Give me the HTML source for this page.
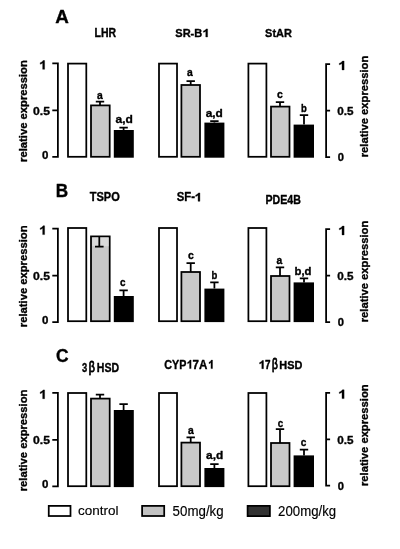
<!DOCTYPE html>
<html><head><meta charset="utf-8"><title>Figure</title>
<style>
html,body{margin:0;padding:0;background:#fff;}
svg{display:block;font-family:"Liberation Sans",sans-serif;fill:#000;}
text,.t1{stroke:#000;stroke-width:0.35px;vector-effect:non-scaling-stroke;stroke-linejoin:round;}
.ax{fill:none;stroke:#000;stroke-width:1.75;}
.b{stroke:#000;stroke-width:1.75;}
.eb{fill:none;stroke:#000;stroke-width:1.75;}
</style></head><body>
<svg width="400" height="549" viewBox="0 0 400 549">
<defs><filter id="bl" x="0" y="0" width="400" height="549" filterUnits="userSpaceOnUse"><feGaussianBlur stdDeviation="0.4"/></filter></defs>
<g filter="url(#bl)">
<rect width="400" height="549" fill="#fff"/>
<path d="M52.3 63.40H57.9V156.90H52.3M52.3 110.40H57.9" class="ax"/>
<path d="M330.1 64.10H326.1V157.00H330.1M330.1 110.70H326.1" class="ax"/>
<rect x="68" y="63.6" width="18.30" height="93.2" fill="#fff" class="b"/>
<path d="M100 105.4V101.7M95.8 101.7H104.2M123.6 130V127.6M119.39999999999999 127.6H127.8" class="eb"/>
<rect x="91" y="105.4" width="18.70" height="51.40" fill="#c9c9c9" class="b"/>
<rect x="113.8" y="130" width="20.00" height="27.70" fill="#000"/>
<rect x="159" y="63.6" width="18.00" height="93.2" fill="#fff" class="b"/>
<path d="M190.7 85V81M186.5 81H194.89999999999998M214.4 122.6V121M210.20000000000002 121H218.6" class="eb"/>
<rect x="181.4" y="85" width="18.60" height="71.80" fill="#c9c9c9" class="b"/>
<rect x="204.4" y="122.6" width="20.00" height="35.10" fill="#000"/>
<rect x="248.4" y="63.6" width="18.00" height="93.2" fill="#fff" class="b"/>
<path d="M280 106.6V102M275.8 102H284.2M304 124.6V115M299.8 115H308.2" class="eb"/>
<rect x="271" y="106.6" width="18.50" height="50.20" fill="#c9c9c9" class="b"/>
<rect x="293.6" y="124.6" width="20.40" height="33.10" fill="#000"/>
<path d="M52.3 228.70H57.9V322.20H52.3M52.3 275.70H57.9" class="ax"/>
<path d="M330.1 229.10H326.1V322.00H330.1M330.1 275.70H326.1" class="ax"/>
<rect x="68" y="228.0" width="18.30" height="93.2" fill="#fff" class="b"/>
<path d="M100 236.4V246.6M95.8 246.6H104.2M123.6 296V290.4M119.39999999999999 290.4H127.8" class="eb"/>
<rect x="91" y="236.4" width="18.70" height="84.80" fill="#c9c9c9" class="b"/>
<rect x="92.2" y="237.6" width="16.30" height="8.60" fill="#dadada"/>
<path d="M99.3 236.4V246.6M95.0 246.6H103.6" class="eb"/>
<rect x="113.8" y="296" width="20.00" height="26.10" fill="#000"/>
<rect x="159" y="228.0" width="18.00" height="93.2" fill="#fff" class="b"/>
<path d="M190.7 272V263M186.5 263H194.89999999999998M214.4 288.6V282.4M210.20000000000002 282.4H218.6" class="eb"/>
<rect x="181.4" y="272" width="18.60" height="49.20" fill="#c9c9c9" class="b"/>
<rect x="204.4" y="288.6" width="20.00" height="33.50" fill="#000"/>
<rect x="248.4" y="228.0" width="18.00" height="93.2" fill="#fff" class="b"/>
<path d="M280 276V267.4M275.8 267.4H284.2M304 282.4V278.4M299.8 278.4H308.2" class="eb"/>
<rect x="271" y="276" width="18.50" height="45.20" fill="#c9c9c9" class="b"/>
<rect x="293.6" y="282.4" width="20.40" height="39.70" fill="#000"/>
<path d="M52.3 392.80H57.9V486.30H52.3M52.3 439.80H57.9" class="ax"/>
<path d="M330.1 392.80H326.1V485.70H330.1M330.1 439.40H326.1" class="ax"/>
<rect x="68" y="393.0" width="18.30" height="93.2" fill="#fff" class="b"/>
<path d="M100 398.6V394.6M95.8 394.6H104.2M123.6 410V404M119.39999999999999 404H127.8" class="eb"/>
<rect x="91" y="398.6" width="18.70" height="87.60" fill="#c9c9c9" class="b"/>
<rect x="113.8" y="410" width="20.00" height="77.10" fill="#000"/>
<rect x="159" y="393.0" width="18.00" height="93.2" fill="#fff" class="b"/>
<path d="M190.7 442.6V437.4M186.5 437.4H194.89999999999998M214.4 468V464M210.20000000000002 464H218.6" class="eb"/>
<rect x="181.4" y="442.6" width="18.60" height="43.60" fill="#c9c9c9" class="b"/>
<rect x="204.4" y="468" width="20.00" height="19.10" fill="#000"/>
<rect x="248.4" y="393.0" width="18.00" height="93.2" fill="#fff" class="b"/>
<path d="M280 443V429M275.8 429H284.2M304 455.4V449.6M299.8 449.6H308.2" class="eb"/>
<rect x="271" y="443" width="18.50" height="43.20" fill="#c9c9c9" class="b"/>
<rect x="293.6" y="455.4" width="20.40" height="31.70" fill="#000"/>
<path transform="matrix(0.006832 0 0 -0.005978 36.948 69.300)" d="M1120 0H839V1059Q685 915 476 846V1101Q586 1137 715 1237.5Q844 1338 892 1472H1120Z" class="t1"/>
<text transform="matrix(1.2158 0 0 1.1307 33.00 114.59)" font-size="10" font-weight="bold">0.5</text>
<text transform="matrix(1.1532 0 0 1.1307 41.90 158.79)" font-size="10" font-weight="bold">0</text>
<text transform="matrix(0 -1.1236 1.1153 0 27.29 161.90)" font-size="10" font-weight="bold">relative expression</text>
<path transform="matrix(0.007453 0 0 -0.005978 335.752 69.900)" d="M1120 0H839V1059Q685 915 476 846V1101Q586 1137 715 1237.5Q844 1338 892 1472H1120Z" class="t1"/>
<text transform="matrix(1.1727 0 0 1.1307 337.20 115.49)" font-size="10" font-weight="bold">0.5</text>
<text transform="matrix(1.1171 0 0 1.1307 337.80 161.49)" font-size="10" font-weight="bold">0</text>
<text transform="matrix(0 -1.1225 1.1046 0 367.71 157.30)" font-size="10" font-weight="bold">relative expression</text>
<path transform="matrix(0.006832 0 0 -0.005978 36.948 234.600)" d="M1120 0H839V1059Q685 915 476 846V1101Q586 1137 715 1237.5Q844 1338 892 1472H1120Z" class="t1"/>
<text transform="matrix(1.2158 0 0 1.1307 33.00 279.89)" font-size="10" font-weight="bold">0.5</text>
<text transform="matrix(1.1532 0 0 1.1307 41.90 324.09)" font-size="10" font-weight="bold">0</text>
<text transform="matrix(0 -1.1236 1.1153 0 27.29 327.20)" font-size="10" font-weight="bold">relative expression</text>
<path transform="matrix(0.007453 0 0 -0.005978 335.752 234.900)" d="M1120 0H839V1059Q685 915 476 846V1101Q586 1137 715 1237.5Q844 1338 892 1472H1120Z" class="t1"/>
<text transform="matrix(1.1727 0 0 1.1307 337.20 280.49)" font-size="10" font-weight="bold">0.5</text>
<text transform="matrix(1.1171 0 0 1.1307 337.80 326.49)" font-size="10" font-weight="bold">0</text>
<text transform="matrix(0 -1.1225 1.1046 0 367.71 322.30)" font-size="10" font-weight="bold">relative expression</text>
<path transform="matrix(0.006832 0 0 -0.005978 36.948 398.700)" d="M1120 0H839V1059Q685 915 476 846V1101Q586 1137 715 1237.5Q844 1338 892 1472H1120Z" class="t1"/>
<text transform="matrix(1.2158 0 0 1.1307 33.00 443.99)" font-size="10" font-weight="bold">0.5</text>
<text transform="matrix(1.1532 0 0 1.1307 41.90 488.19)" font-size="10" font-weight="bold">0</text>
<text transform="matrix(0 -1.1236 1.1153 0 27.29 491.30)" font-size="10" font-weight="bold">relative expression</text>
<path transform="matrix(0.007453 0 0 -0.005978 335.752 398.600)" d="M1120 0H839V1059Q685 915 476 846V1101Q586 1137 715 1237.5Q844 1338 892 1472H1120Z" class="t1"/>
<text transform="matrix(1.1727 0 0 1.1307 337.20 444.19)" font-size="10" font-weight="bold">0.5</text>
<text transform="matrix(1.1171 0 0 1.1307 337.80 490.19)" font-size="10" font-weight="bold">0</text>
<text transform="matrix(0 -1.1225 1.1046 0 367.71 486.00)" font-size="10" font-weight="bold">relative expression</text>
<text transform="matrix(1.8824 0 0 1.7455 55.30 22.50)" font-size="10" font-weight="bold">A</text>
<text transform="matrix(1.7163 0 0 1.8036 55.80 196.90)" font-size="10" font-weight="bold">B</text>
<text transform="matrix(1.7439 0 0 1.8092 55.90 362.12)" font-size="10" font-weight="bold">C</text>
<text transform="matrix(1.0487 0 0 1.1855 94.60 37.00)" font-size="10" font-weight="bold">LHR</text>
<text transform="matrix(1.1043 0 0 1.1731 175.30 37.08)" font-size="10" font-weight="bold">SR-B</text>
<path transform="matrix(0.006522 0 0 -0.005503 200.296 37.000)" d="M1120 0H839V1059Q685 915 476 846V1101Q586 1137 715 1237.5Q844 1338 892 1472H1120Z" class="t1"/>
<text transform="matrix(1.0961 0 0 1.1590 265.10 37.18)" font-size="10" font-weight="bold">StAR</text>
<text transform="matrix(1.1019 0 0 1.1873 89.80 201.38)" font-size="10" font-weight="bold">TSPO</text>
<text transform="matrix(1.1304 0 0 1.2297 176.80 201.38)" font-size="10" font-weight="bold">SF-</text>
<path transform="matrix(0.006522 0 0 -0.005707 192.596 201.300)" d="M1120 0H839V1059Q685 915 476 846V1101Q586 1137 715 1237.5Q844 1338 892 1472H1120Z" class="t1"/>
<text transform="matrix(1.0615 0 0 1.2509 265.50 203.90)" font-size="10" font-weight="bold">PDE4B</text>
<text transform="matrix(0.9369 0 0 1.2254 82.10 371.75)" font-size="10" font-weight="bold">3</text>
<text transform="matrix(1.0609 0 0 1.4102 88.70 371.72)" font-size="10" font-weight="normal" style="stroke-width:0.8px">β</text>
<text transform="matrix(1.0556 0 0 1.2155 96.85 371.78)" font-size="10" font-weight="bold">HSD</text>
<text transform="matrix(1.0754 0 0 1.2297 164.20 368.58)" font-size="10" font-weight="bold">CYP</text>
<path transform="matrix(0.005435 0 0 -0.005774 185.013 368.600)" d="M1120 0H839V1059Q685 915 476 846V1101Q586 1137 715 1237.5Q844 1338 892 1472H1120Z" class="t1"/>
<text transform="matrix(1.1585 0 0 1.2364 192.50 368.60)" font-size="10" font-weight="bold">7A</text>
<path transform="matrix(0.005435 0 0 -0.005774 206.413 368.600)" d="M1120 0H839V1059Q685 915 476 846V1101Q586 1137 715 1237.5Q844 1338 892 1472H1120Z" class="t1"/>
<path transform="matrix(0.006056 0 0 -0.005571 256.717 368.700)" d="M1120 0H839V1059Q685 915 476 846V1101Q586 1137 715 1237.5Q844 1338 892 1472H1120Z" class="t1"/>
<text transform="matrix(0.9910 0 0 1.1927 264.90 368.70)" font-size="10" font-weight="bold">7</text>
<text transform="matrix(1.0087 0 0 1.5228 271.90 368.54)" font-size="10" font-weight="normal" style="stroke-width:0.8px">β</text>
<text transform="matrix(1.0911 0 0 1.1590 279.35 368.58)" font-size="10" font-weight="bold">HSD</text>
<text transform="matrix(1.0311 0 0 1.1631 97.10 99.39)" font-size="10" font-weight="bold">a</text>
<text transform="matrix(1.2042 0 0 1.1355 115.50 122.73)" font-size="10" font-weight="bold">a,d</text>
<text transform="matrix(1.0311 0 0 1.1631 187.10 76.39)" font-size="10" font-weight="bold">a</text>
<text transform="matrix(1.1903 0 0 1.1355 205.70 116.93)" font-size="10" font-weight="bold">a,d</text>
<text transform="matrix(1.0450 0 0 1.1631 277.10 98.39)" font-size="10" font-weight="bold">c</text>
<text transform="matrix(0.9508 0 0 1.1444 301.10 111.79)" font-size="10" font-weight="bold">b</text>
<text transform="matrix(0.9910 0 0 1.1631 120.10 286.39)" font-size="10" font-weight="bold">c</text>
<text transform="matrix(1.0450 0 0 1.1631 188.10 258.99)" font-size="10" font-weight="bold">c</text>
<text transform="matrix(0.9508 0 0 1.1444 211.50 279.39)" font-size="10" font-weight="bold">b</text>
<text transform="matrix(1.0311 0 0 1.1631 276.50 263.79)" font-size="10" font-weight="bold">a</text>
<text transform="matrix(1.1333 0 0 1.1355 294.50 274.73)" font-size="10" font-weight="bold">b,d</text>
<text transform="matrix(1.0311 0 0 1.1631 188.10 433.99)" font-size="10" font-weight="bold">a</text>
<text transform="matrix(1.1903 0 0 1.1355 206.10 459.33)" font-size="10" font-weight="bold">a,d</text>
<text transform="matrix(0.9730 0 0 1.1631 277.70 426.79)" font-size="10" font-weight="bold">c</text>
<text transform="matrix(1.0090 0 0 1.1631 300.70 446.39)" font-size="10" font-weight="bold">c</text>
<rect x="48.75" y="505.9" width="21.75" height="10.1" fill="#fff" class="b"/>
<rect x="142.1" y="505.9" width="22.1" height="10.1" fill="#c2c2c2" class="b"/>
<rect x="247.6" y="505.9" width="22.3" height="10.2" fill="#333" class="b"/>
<text transform="matrix(1.3505 0 0 1.3469 78.10 515.37)" font-size="10" font-weight="normal" style="stroke-width:0.15px">control</text>
<text transform="matrix(1.3312 0 0 1.3727 172.60 515.65)" font-size="10" font-weight="normal" style="stroke-width:0.15px">50mg/kg</text>
<text transform="matrix(1.3216 0 0 1.3727 278.10 515.65)" font-size="10" font-weight="normal" style="stroke-width:0.15px">200mg/kg</text>
</g>
</svg>
</body></html>
